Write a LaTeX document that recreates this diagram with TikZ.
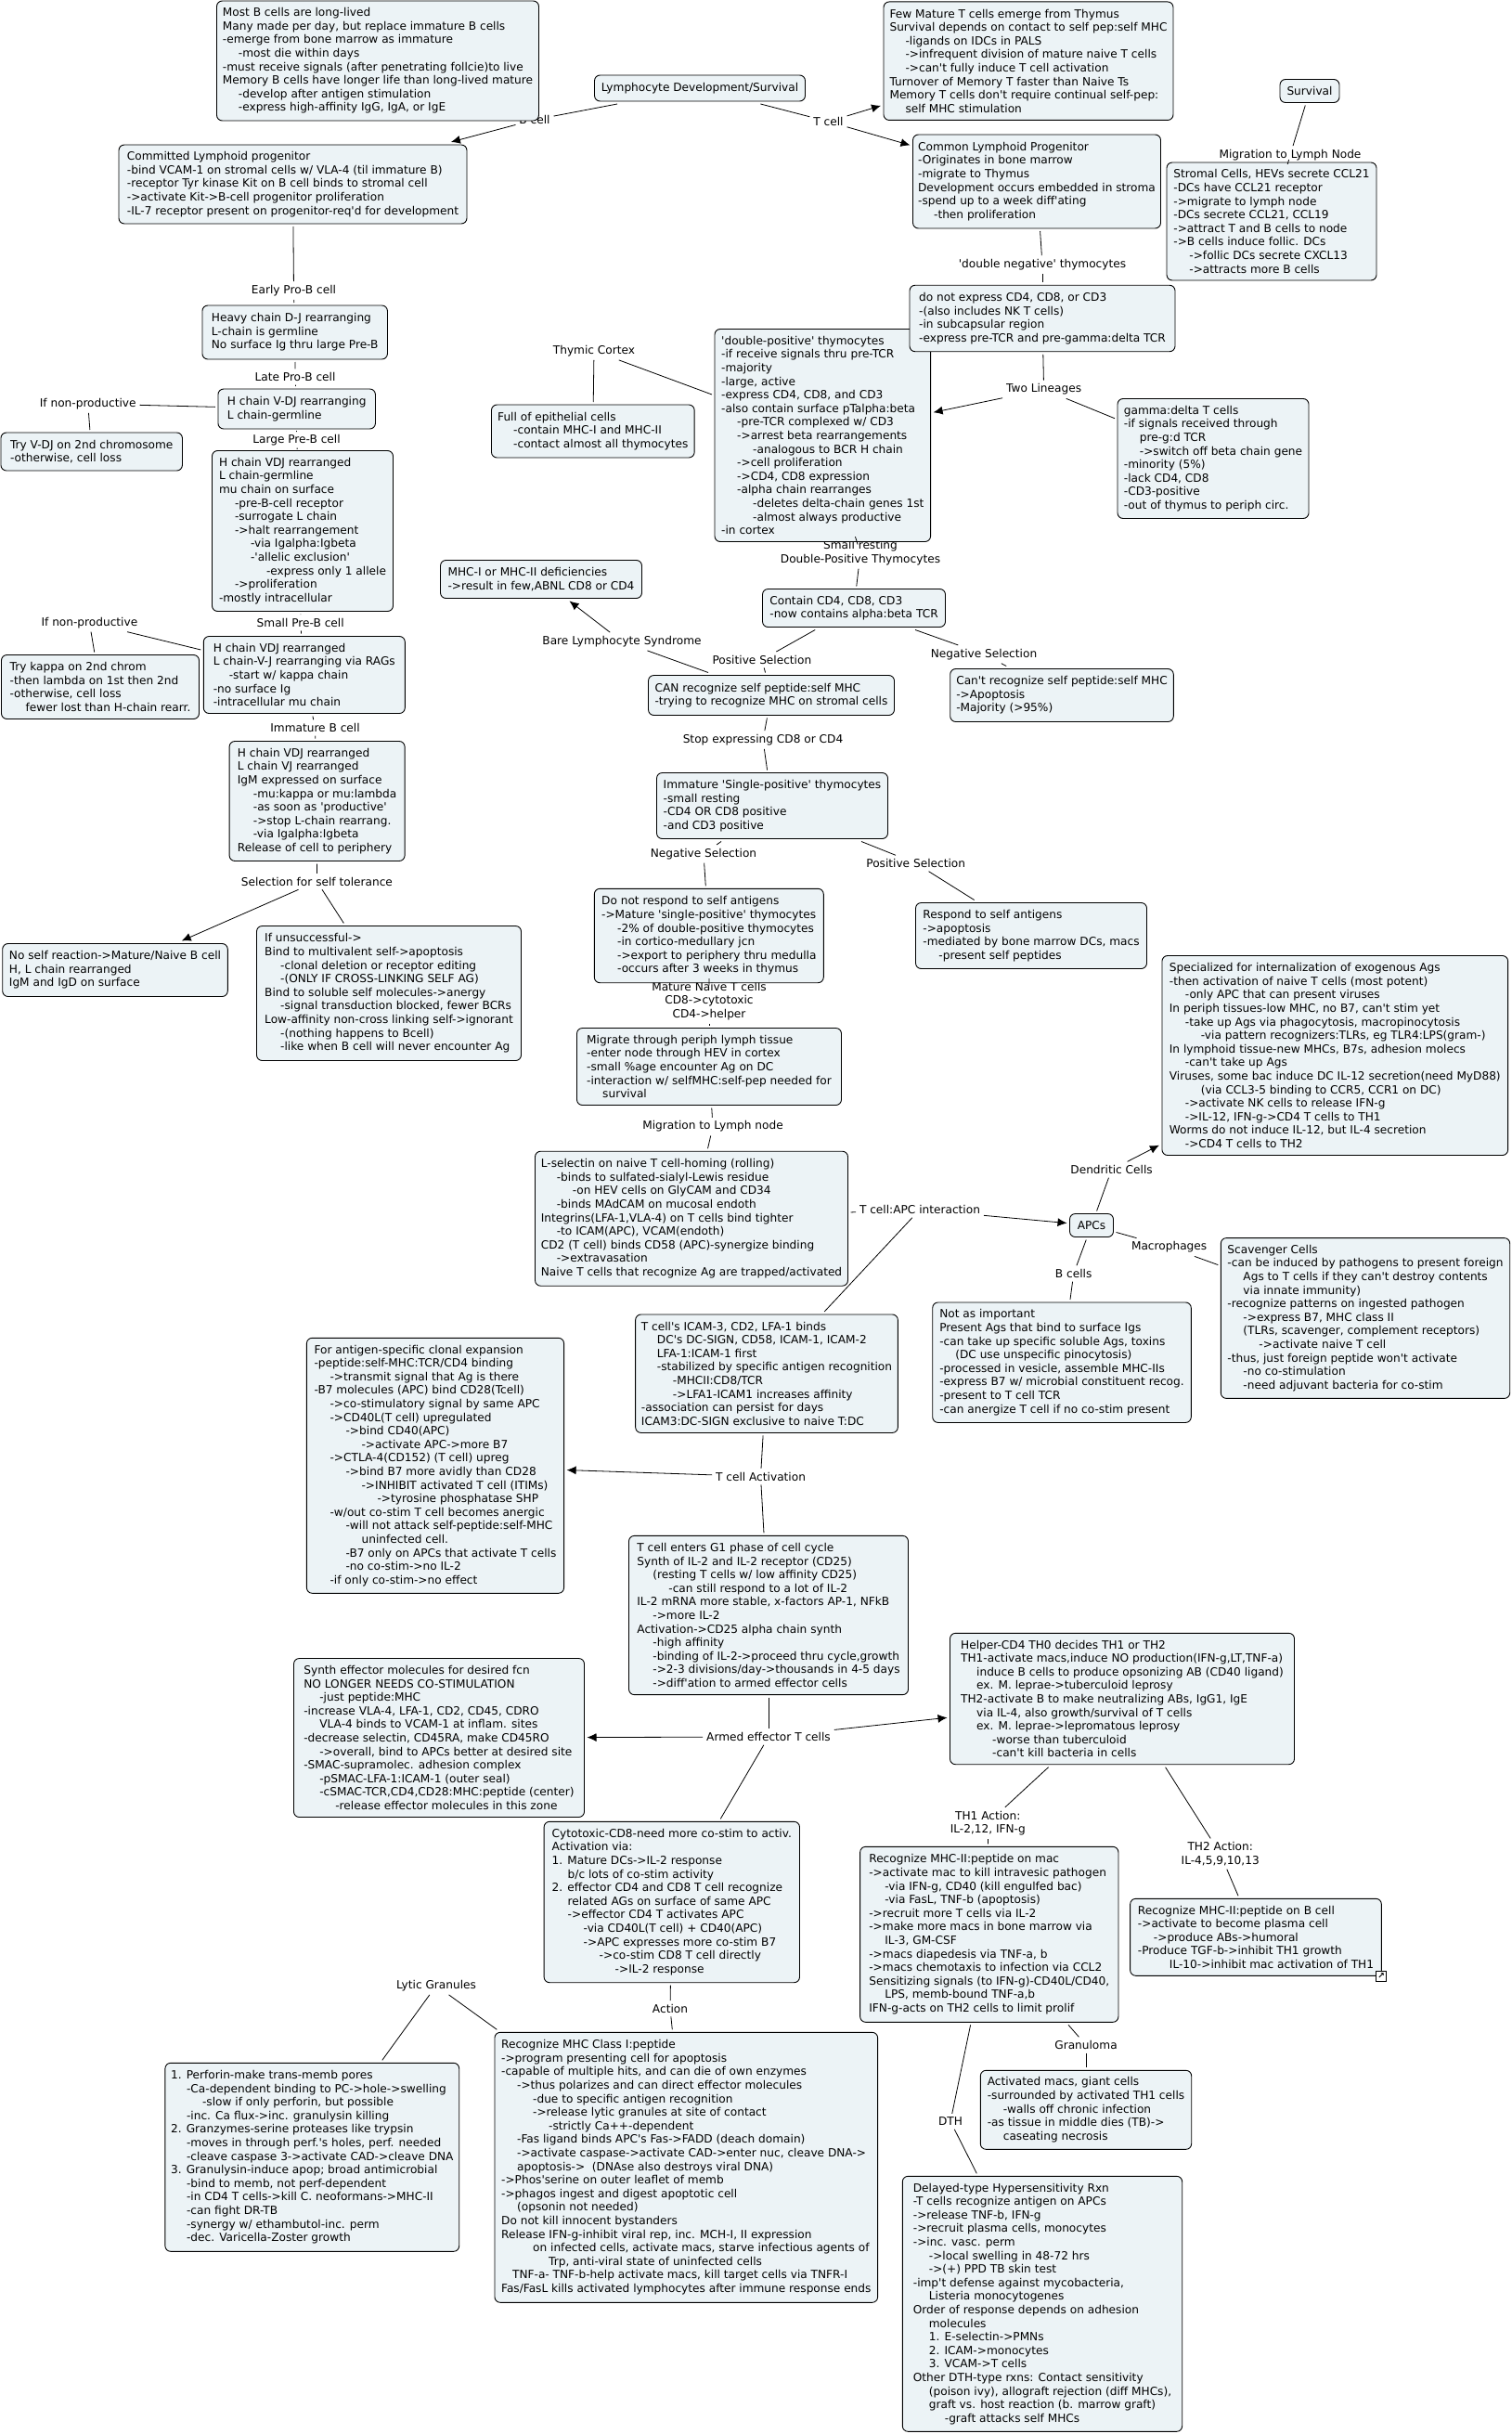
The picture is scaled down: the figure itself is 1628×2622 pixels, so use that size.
\documentclass[tikz,border=0pt]{standalone}
\usepackage{fontspec}
\usetikzlibrary{arrows.meta}
\newfontfamily\mapfont{DejaVu Sans}
\definecolor{cellfill}{HTML}{ECF3F6}
\newcommand{\tabb}{\hspace*{17pt}}
\tikzset{
	concept/.style={draw=black,fill=cellfill,rounded corners=6pt,line width=0.9pt,inner sep=0pt,outer sep=3pt,align=left,font=\mapfont\fontsize{12.15}{14.6}\selectfont},
	linkphrase/.style={inner sep=1pt,outer sep=3pt,align=center,font=\mapfont\fontsize{12.15}{14.6}\selectfont},
	linkicon/.style={draw=black,fill=white,line width=1pt,inner sep=0pt,minimum size=11pt,font=\mapfont\bfseries\fontsize{9}{9}\selectfont},
	>={Latex[length=10pt,width=9pt]},
	edge/.style={line width=0.8pt}
}
\begin{document}
\begin{tikzpicture}[x=1pt,y=-1pt]
		\useasboundingbox (0,0) rectangle (1628,2622);

		\node[linkphrase] (lblB) at (576,129) {B cell};
		\node[linkphrase] (lblT) at (892.5,131) {T cell};
		\node[linkphrase] (lblMigNode) at (1390,167) {Migration to Lymph Node};
		\node[linkphrase] (lblDN) at (1123,285) {'double negative' thymocytes};
		\node[linkphrase] (lblTwo) at (1124.6,419.5) {Two Lineages};
		\node[linkphrase] (lblCortex) at (640,378) {Thymic Cortex};
		\node[linkphrase] (lblEarly) at (316.5,313) {Early Pro-B cell};
		\node[linkphrase] (lblLate) at (318,406) {Late Pro-B cell};
		\node[linkphrase] (lblLarge) at (319.5,474) {Large Pre-B cell};
		\node[linkphrase] (lblNon1) at (94.7,435) {If non-productive};
		\node[linkphrase] (lblSmall) at (323.7,670.8) {Small Pre-B cell};
		\node[linkphrase] (lblNon2) at (96.4,670.8) {If non-productive};
		\node[linkphrase] (lblImm) at (339.5,784) {Immature B cell};
		\node[linkphrase] (lblSelect) at (341.4,949.6) {Selection for self tolerance};
		\node[linkphrase] (lblResting) at (927,595.4) {Small resting\\Double-Positive Thymocytes};
		\node[linkphrase] (lblBare) at (670,691) {Bare Lymphocyte Syndrome};
		\node[linkphrase] (lblPos1) at (820.9,710.7) {Positive Selection};
		\node[linkphrase] (lblNeg1) at (1060,704.8) {Negative Selection};
		\node[linkphrase] (lblStop) at (822,797) {Stop expressing CD8 or CD4};
		\node[linkphrase] (lblNeg2) at (758,919.8) {Negative Selection};
		\node[linkphrase] (lblPos2) at (986.7,930) {Positive Selection};
		\node[linkphrase] (lblMature) at (764,1078.5) {Mature Naive T cells\\CD8->cytotoxic\\CD4->helper};
		\node[linkphrase] (lblLymph) at (768,1213.6) {Migration to Lymph node};
		\node[linkphrase] (lblApc) at (991,1303) {T cell:APC interaction};
		\node[linkphrase] (lblDend) at (1197.6,1260) {Dendritic Cells};
		\node[linkphrase] (lblMac) at (1259.6,1343.5) {Macrophages};
		\node[linkphrase] (lblBc) at (1156.7,1372) {B cells};
		\node[linkphrase] (lblAct) at (819.5,1590.6) {T cell Activation};
		\node[linkphrase] (lblArmed) at (828,1871) {Armed effector T cells};
		\node[linkphrase] (lblTh1) at (1064.3,1964) {TH1 Action:\\IL-2,12, IFN-g};
		\node[linkphrase] (lblTh2) at (1314.7,1997) {TH2 Action:\\IL-4,5,9,10,13};
		\node[linkphrase] (lblGran) at (1170,2203) {Granuloma};
		\node[linkphrase] (lblDth) at (1024,2285.3) {DTH};
		\node[linkphrase] (lblLytic) at (470,2139) {Lytic Granules};
		\node[linkphrase] (lblAction) at (722,2163.7) {Action};

		\node[concept,minimum width=227pt,minimum height=28pt] (lymph) at (754,95) {Lymphocyte Development/Survival};
		\node[concept,minimum width=64pt,minimum height=25pt] (survival) at (1411,98) {Survival};
		\node[concept,minimum width=347pt,minimum height=129pt] (bmemory) at (407,65.5) {Most B cells are long-lived\\Many made per day, but replace immature B cells\\-emerge from bone marrow as immature\\\tabb-most die within days\\-must receive signals (after penetrating follcie)to live\\Memory B cells have longer life than long-lived mature\\\tabb-develop after antigen stimulation\\\tabb-express high-affinity IgG, IgA, or IgE};
		\node[concept,minimum width=312pt,minimum height=127.5pt] (tmemory) at (1108,65.7) {Few Mature T cells emerge from Thymus\\Survival depends on contact to self pep:self MHC\\\tabb-ligands on IDCs in PALS\\\tabb->infrequent division of mature naive T cells\\\tabb->can't fully induce T cell activation\\Turnover of Memory T faster than Naive Ts\\Memory T cells don't require continual self-pep:\\\tabb self MHC stimulation};
		\node[concept,minimum width=375pt,minimum height=85pt] (committed) at (315.5,198.5) {Committed Lymphoid progenitor\\-bind VCAM-1 on stromal cells w/ VLA-4 (til immature B)\\-receptor Tyr kinase Kit on B cell binds to stromal cell\\->activate Kit->B-cell progenitor proliferation\\-IL-7 receptor present on progenitor-req'd for development};
		\node[concept,minimum width=267pt,minimum height=101pt] (common) at (1117,195.5) {Common Lymphoid Progenitor\\-Originates in bone marrow\\-migrate to Thymus\\Development occurs embedded in stroma\\-spend up to a week diff'ating\\\tabb-then proliferation};
		\node[concept,minimum width=226pt,minimum height=127pt] (stromal) at (1370,238.5) {Stromal Cells, HEVs secrete CCL21\\-DCs have CCL21 receptor\\->migrate to lymph node\\-DCs secrete CCL21, CCL19\\->attract T and B cells to node\\->B cells induce follic. DCs\\\tabb->follic DCs secrete CXCL13\\\tabb->attracts more B cells};
		\node[concept,minimum width=199.5pt,minimum height=58pt] (heavy) at (317.7,358) {Heavy chain D-J rearranging\\L-chain is germline\\No surface Ig thru large Pre-B};
		\node[concept,minimum width=169.5pt,minimum height=43pt] (vdjone) at (319.7,440.5) {H chain V-DJ rearranging\\L chain-germline};
		\node[concept,minimum width=195.5pt,minimum height=41pt] (tryvdj) at (98.7,486.5) {Try V-DJ on 2nd chromosome\\-otherwise, cell loss};
		\node[concept,minimum width=195pt,minimum height=173pt] (largepre) at (326,572) {H chain VDJ rearranged\\L chain-germline\\mu chain on surface\\\tabb-pre-B-cell receptor\\\tabb-surrogate L chain\\\tabb->halt rearrangement\\\tabb\tabb-via Igalpha:Igbeta\\\tabb\tabb-'allelic exclusion'\\\tabb\tabb\tabb-express only 1 allele\\\tabb->proliferation\\-mostly intracellular};
		\node[concept,minimum width=218.7pt,minimum height=57pt] (epith) at (638.8,464.5) {Full of epithelial cells\\\tabb-contain MHC-I and MHC-II\\\tabb-contact almost all thymocytes};
		\node[concept,minimum width=232.6pt,minimum height=229pt] (dpos) at (886.3,469) {'double-positive' thymocytes\\-if receive signals thru pre-TCR\\-majority\\-large, active\\-express CD4, CD8, and CD3\\-also contain surface pTalpha:beta\\\tabb-pre-TCR complexed w/ CD3\\\tabb->arrest beta rearrangements\\\tabb\tabb-analogous to BCR H chain\\\tabb->cell proliferation\\\tabb->CD4, CD8 expression\\\tabb-alpha chain rearranges\\\tabb\tabb-deletes delta-chain genes 1st\\\tabb\tabb-almost always productive\\-in cortex};
		\node[concept,minimum width=286pt,minimum height=71.5pt] (noexpress) at (1123,343) {do not express CD4, CD8, or CD3\\-(also includes NK T cells)\\-in subcapsular region\\-express pre-TCR and pre-gamma:delta TCR};
		\node[concept,minimum width=206pt,minimum height=129pt] (gammadelta) at (1307,494) {gamma:delta T cells\\-if signals received through\\\tabb pre-g:d TCR\\\tabb->switch off beta chain gene\\-minority (5\%)\\-lack CD4, CD8\\-CD3-positive\\-out of thymus to periph circ.};
		\node[concept,minimum width=217pt,minimum height=41pt] (mhcdef) at (583,624) {MHC-I or MHC-II deficiencies\\->result in few,ABNL CD8 or CD4};
		\node[concept,minimum width=197pt,minimum height=41pt] (contain) at (920,655) {Contain CD4, CD8, CD3\\-now contains alpha:beta TCR};
		\node[concept,minimum width=217pt,minimum height=83pt] (hvj) at (327.8,727) {H chain VDJ rearranged\\L chain-V-J rearranging via RAGs\\\tabb-start w/ kappa chain\\-no surface Ig\\-intracellular mu chain};
		\node[concept,minimum width=213pt,minimum height=69pt] (trykappa) at (108,740) {Try kappa on 2nd chrom\\-then lambda on 1st then 2nd\\-otherwise, cell loss\\\tabb fewer lost than H-chain rearr.};
		\node[concept,minimum width=265pt,minimum height=43pt] (canrec) at (831,749) {CAN recognize self peptide:self MHC\\-trying to recognize MHC on stromal cells};
		\node[concept,minimum width=240.6pt,minimum height=57pt] (cantrec) at (1144,749) {Can't recognize self peptide:self MHC\\->Apoptosis\\-Majority (>95\%)};
		\node[concept,minimum width=189pt,minimum height=129pt] (hrelease) at (341.6,863) {H chain VDJ rearranged\\L chain VJ rearranged\\IgM expressed on surface\\\tabb-mu:kappa or mu:lambda\\\tabb-as soon as 'productive'\\\tabb->stop L-chain rearrang.\\\tabb-via Igalpha:Igbeta\\Release of cell to periphery};
		\node[concept,minimum width=249pt,minimum height=71pt] (singlepos) at (832,868) {Immature 'Single-positive' thymocytes\\-small resting\\-CD4 OR CD8 positive\\-and CD3 positive};
		\node[concept,minimum width=247pt,minimum height=101.4pt] (noresp) at (763.8,1008) {Do not respond to self antigens\\->Mature 'single-positive' thymocytes\\\tabb-2\% of double-positive thymocytes\\\tabb-in cortico-medullary jcn\\\tabb->export to periphery thru medulla\\\tabb-occurs after 3 weeks in thymus};
		\node[concept,minimum width=249pt,minimum height=71pt] (resp) at (1111,1008) {Respond to self antigens\\->apoptosis\\-mediated by bone marrow DCs, macs\\\tabb-present self peptides};
		\node[concept,minimum width=242.6pt,minimum height=57pt] (noself) at (124,1045) {No self reaction->Mature/Naive B cell\\H, L chain rearranged\\IgM and IgD on surface};
		\node[concept,minimum width=285pt,minimum height=145pt] (unsucc) at (419,1070) {If unsuccessful->\\Bind to multivalent self->apoptosis\\\tabb-clonal deletion or receptor editing\\\tabb-(ONLY IF CROSS-LINKING SELF AG)\\Bind to soluble self molecules->anergy\\\tabb-signal transduction blocked, fewer BCRs\\Low-affinity non-cross linking self->ignorant\\\tabb-(nothing happens to Bcell)\\\tabb-like when B cell will never encounter Ag};
		\node[concept,minimum width=285pt,minimum height=83pt] (migrate) at (764,1149) {Migrate through periph lymph tissue\\-enter node through HEV in cortex\\-small \%age encounter Ag on DC\\-interaction w/ selfMHC:self-pep needed for\\\tabb survival};
		\node[concept,minimum width=372.7pt,minimum height=215pt] (special) at (1438.3,1137) {Specialized for internalization of exogenous Ags\\-then activation of naive T cells (most potent)\\\tabb-only APC that can present viruses\\In periph tissues-low MHC, no B7, can't stim yet\\\tabb-take up Ags via phagocytosis, macropinocytosis\\\tabb\tabb-via pattern recognizers:TLRs, eg TLR4:LPS(gram-)\\In lymphoid tissue-new MHCs, B7s, adhesion molecs\\\tabb-can't take up Ags\\Viruses, some bac induce DC IL-12 secretion(need MyD88)\\\tabb\tabb(via CCL3-5 binding to CCR5, CCR1 on DC)\\\tabb->activate NK cells to release IFN-g\\\tabb->IL-12, IFN-g->CD4 T cells to TH1\\Worms do not induce IL-12, but IL-4 secretion\\\tabb->CD4 T cells to TH2};
		\node[concept,minimum width=337pt,minimum height=145pt] (lselectin) at (745,1312.7) {L-selectin on naive T cell-homing (rolling)\\\tabb-binds to sulfated-sialyl-Lewis residue\\\tabb\tabb-on HEV cells on GlyCAM and CD34\\\tabb-binds MAdCAM on mucosal endoth\\Integrins(LFA-1,VLA-4) on T cells bind tighter\\\tabb-to ICAM(APC), VCAM(endoth)\\CD2 (T cell) binds CD58 (APC)-synergize binding\\\tabb->extravasation\\Naive T cells that recognize Ag are trapped/activated};
		\node[concept,minimum width=47pt,minimum height=25pt] (apcs) at (1176,1320) {APCs};
		\node[concept,minimum width=311.4pt,minimum height=172.8pt] (scav) at (1471,1420) {Scavenger Cells\\-can be induced by pathogens to present foreign\\\tabb Ags to T cells if they can't destroy contents\\\tabb via innate immunity)\\-recognize patterns on ingested pathogen\\\tabb->express B7, MHC class II\\\tabb(TLRs, scavenger, complement receptors)\\\tabb\tabb->activate naive T cell\\-thus, just foreign peptide won't activate\\\tabb-no co-stimulation\\\tabb-need adjuvant bacteria for co-stim};
		\node[concept,minimum width=278.6pt,minimum height=129.5pt] (notimp) at (1144,1467.7) {Not as important\\Present Ags that bind to surface Igs\\-can take up specific soluble Ags, toxins\\\tabb(DC use unspecific pinocytosis)\\-processed in vesicle, assemble MHC-IIs\\-express B7 w/ microbial constituent recog.\\-present to T cell TCR\\-can anergize T cell if no co-stim present};
		\node[concept,minimum width=282.7pt,minimum height=127.5pt] (icam) at (826,1479.7) {T cell's ICAM-3, CD2, LFA-1 binds\\\tabb DC's DC-SIGN, CD58, ICAM-1, ICAM-2\\\tabb LFA-1:ICAM-1 first\\\tabb-stabilized by specific antigen recognition\\\tabb\tabb-MHCII:CD8/TCR\\\tabb\tabb->LFA1-ICAM1 increases affinity\\-association can persist for days\\ICAM3:DC-SIGN exclusive to naive T:DC};
		\node[concept,minimum width=277.2pt,minimum height=275pt] (clonal) at (469,1578.8) {For antigen-specific clonal expansion\\-peptide:self-MHC:TCR/CD4 binding\\\tabb->transmit signal that Ag is there\\-B7 molecules (APC) bind CD28(Tcell)\\\tabb->co-stimulatory signal by same APC\\\tabb->CD40L(T cell) upregulated\\\tabb\tabb->bind CD40(APC)\\\tabb\tabb\tabb->activate APC->more B7\\\tabb->CTLA-4(CD152) (T cell) upreg\\\tabb\tabb->bind B7 more avidly than CD28\\\tabb\tabb\tabb->INHIBIT activated T cell (ITIMs)\\\tabb\tabb\tabb\tabb->tyrosine phosphatase SHP\\\tabb-w/out co-stim T cell becomes anergic\\\tabb\tabb-will not attack self-peptide:self-MHC\\\tabb\tabb\tabb uninfected cell.\\\tabb\tabb-B7 only on APCs that activate T cells\\\tabb\tabb-no co-stim->no IL-2\\\tabb-if only co-stim->no effect};
		\node[concept,minimum width=301pt,minimum height=171.3pt] (enters) at (828,1740) {T cell enters G1 phase of cell cycle\\Synth of IL-2 and IL-2 receptor (CD25)\\\tabb(resting T cells w/ low affinity CD25)\\\tabb\tabb-can still respond to a lot of IL-2\\IL-2 mRNA more stable, x-factors AP-1, NFkB\\\tabb->more IL-2\\Activation->CD25 alpha chain synth\\\tabb-high affinity\\\tabb-binding of IL-2->proceed thru cycle,growth\\\tabb->2-3 divisions/day->thousands in 4-5 days\\\tabb->diff'ation to armed effector cells};
		\node[concept,minimum width=371pt,minimum height=141.4pt] (helper) at (1209,1830) {Helper-CD4 TH0 decides TH1 or TH2\\TH1-activate macs,induce NO production(IFN-g,LT,TNF-a)\\\tabb induce B cells to produce opsonizing AB (CD40 ligand)\\\tabb ex. M. leprae->tuberculoid leprosy\\TH2-activate B to make neutralizing ABs, IgG1, IgE\\\tabb via IL-4, also growth/survival of T cells\\\tabb ex. M. leprae->lepromatous leprosy\\\tabb\tabb-worse than tuberculoid\\\tabb\tabb-can't kill bacteria in cells};
		\node[concept,minimum width=313pt,minimum height=171pt] (synth) at (473,1872) {Synth effector molecules for desired fcn\\NO LONGER NEEDS CO-STIMULATION\\\tabb-just peptide:MHC\\-increase VLA-4, LFA-1, CD2, CD45, CDRO\\\tabb VLA-4 binds to VCAM-1 at inflam. sites\\-decrease selectin, CD45RA, make CD45RO\\\tabb->overall, bind to APCs better at desired site\\-SMAC-supramolec. adhesion complex\\\tabb-pSMAC-LFA-1:ICAM-1 (outer seal)\\\tabb-cSMAC-TCR,CD4,CD28:MHC:peptide (center)\\\tabb\tabb-release effector molecules in this zone};
		\node[concept,minimum width=275.4pt,minimum height=173.4pt] (cyto) at (723.8,2049) {Cytotoxic-CD8-need more co-stim to activ.\\Activation via:\\1. Mature DCs->IL-2 response\\\tabb b/c lots of co-stim activity\\2. effector CD4 and CD8 T cell recognize\\\tabb related AGs on surface of same APC\\\tabb->effector CD4 T activates APC\\\tabb\tabb-via CD40L(T cell) + CD40(APC)\\\tabb\tabb->APC expresses more co-stim B7\\\tabb\tabb\tabb->co-stim CD8 T cell directly\\\tabb\tabb\tabb\tabb->IL-2 response};
		\node[concept,minimum width=278.3pt,minimum height=189pt] (maccell) at (1065.8,2083.8) {Recognize MHC-II:peptide on mac\\->activate mac to kill intravesic pathogen\\\tabb-via IFN-g, CD40 (kill engulfed bac)\\\tabb-via FasL, TNF-b (apoptosis)\\->recruit more T cells via IL-2\\->make more macs in bone marrow via\\\tabb IL-3, GM-CSF\\->macs diapedesis via TNF-a, b\\->macs chemotaxis to infection via CCL2\\Sensitizing signals (to IFN-g)-CD40L/CD40,\\\tabb LPS, memb-bound TNF-a,b\\IFN-g-acts on TH2 cells to limit prolif};
		\node[concept,minimum width=270.7pt,minimum height=83pt] (bcellth) at (1353,2086.8) {Recognize MHC-II:peptide on B cell\\->activate to become plasma cell\\\tabb->produce ABs->humoral\\-Produce TGF-b->inhibit TH1 growth\\\tabb\tabb IL-10->inhibit mac activation of TH1};
		\node[linkicon] (shortcut) at (1488,2128.7) {↗};
		\node[concept,minimum width=227.4pt,minimum height=85pt] (granuloma) at (1170,2272.8) {Activated macs, giant cells\\-surrounded by activated TH1 cells\\\tabb-walls off chronic infection\\-as tissue in middle dies (TB)->\\\tabb caseating necrosis};
		\node[concept,minimum width=316.8pt,minimum height=203pt] (perforin) at (336.3,2323.8) {1. Perforin-make trans-memb pores\\\tabb-Ca-dependent binding to PC->hole->swelling\\\tabb\tabb-slow if only perforin, but possible\\\tabb-inc. Ca flux->inc. granulysin killing\\2. Granzymes-serine proteases like trypsin\\\tabb-moves in through perf.'s holes, perf. needed\\\tabb-cleave caspase 3->activate CAD->cleave DNA\\3. Granulysin-induce apop; broad antimicrobial\\\tabb-bind to memb, not perf-dependent\\\tabb-in CD4 T cells->kill C. neoformans->MHC-II\\\tabb-can fight DR-TB\\\tabb-synergy w/ ethambutol-inc. perm\\\tabb-dec. Varicella-Zoster growth};
		\node[concept,minimum width=412.7pt,minimum height=291pt] (classone) at (739.3,2334.8) {Recognize MHC Class I:peptide\\->program presenting cell for apoptosis\\-capable of multiple hits, and can die of own enzymes\\\tabb->thus polarizes and can direct effector molecules\\\tabb\tabb-due to specific antigen recognition\\\tabb\tabb->release lytic granules at site of contact\\\tabb\tabb\tabb-strictly Ca++-dependent\\\tabb-Fas ligand binds APC's Fas->FADD (deach domain)\\\tabb->activate caspase->activate CAD->enter nuc, cleave DNA->\\\tabb apoptosis->\ \ (DNAse also destroys viral DNA)\\->Phos'serine on outer leaflet of memb\\->phagos ingest and digest apoptotic cell\\\tabb(opsonin not needed)\\Do not kill innocent bystanders\\Release IFN-g-inhibit viral rep, inc. MCH-I, II expression\\\tabb\tabb on infected cells, activate macs, starve infectious agents of\\\tabb\tabb\tabb Trp, anti-viral state of uninfected cells\\\hspace*{12pt}TNF-a- TNF-b-help activate macs, kill target cells via TNFR-I\\Fas/FasL kills activated lymphocytes after immune response ends};
		\node[concept,minimum width=301.4pt,minimum height=275pt] (delayed) at (1123,2481.8) {Delayed-type Hypersensitivity Rxn\\-T cells recognize antigen on APCs\\->release TNF-b, IFN-g\\->recruit plasma cells, monocytes\\->inc. vasc. perm\\\tabb->local swelling in 48-72 hrs\\\tabb->(+) PPD TB skin test\\-imp't defense against mycobacteria,\\\tabb Listeria monocytogenes\\Order of response depends on adhesion\\\tabb molecules\\\tabb 1. E-selectin->PMNs\\\tabb 2. ICAM->monocytes\\\tabb 3. VCAM->T cells\\Other DTH-type rxns: Contact sensitivity\\\tabb(poison ivy), allograft rejection (diff MHCs),\\\tabb graft vs. host reaction (b. marrow graft)\\\tabb\tabb-graft attacks self MHCs};

		\draw[edge] (lymph) -- (lblB);
		\draw[edge,->] (lblB) -- (committed);
		\draw[edge] (lymph) -- (lblT);
		\draw[edge,->] (lblT) -- (tmemory);
		\draw[edge,->] (lblT) -- (common);
		\draw[edge] (survival) -- (lblMigNode);
		\draw[edge] (lblMigNode) -- (stromal);
		\draw[edge] (common) -- (lblDN);
		\draw[edge] (lblDN) -- (noexpress);
		\draw[edge] (noexpress) -- (lblTwo);
		\draw[edge,->] (lblTwo) -- (dpos);
		\draw[edge] (lblTwo) -- (gammadelta);
		\draw[edge] (dpos) -- (lblCortex);
		\draw[edge] (lblCortex) -- (epith);
		\draw[edge] (dpos) -- (lblResting);
		\draw[edge] (lblResting) -- (contain);
		\draw[edge] (contain) -- (lblPos1);
		\draw[edge] (lblPos1) -- (canrec);
		\draw[edge] (contain) -- (lblNeg1);
		\draw[edge] (lblNeg1) -- (cantrec);
		\draw[edge] (canrec) -- (lblBare);
		\draw[edge,->] (lblBare) -- (mhcdef);
		\draw[edge] (canrec) -- (lblStop);
		\draw[edge] (lblStop) -- (singlepos);
		\draw[edge] (singlepos) -- (lblNeg2);
		\draw[edge] (lblNeg2) -- (noresp);
		\draw[edge] (singlepos) -- (lblPos2);
		\draw[edge] (lblPos2) -- (resp);
		\draw[edge] (noresp) -- (lblMature);
		\draw[edge] (lblMature) -- (migrate);
		\draw[edge] (migrate) -- (lblLymph);
		\draw[edge] (lblLymph) -- (lselectin);
		\draw[edge] (lselectin) -- (lblApc);
		\draw[edge,->] (lblApc) -- (apcs);
		\draw[edge] (lblApc) -- (icam);
		\draw[edge] (apcs) -- (lblDend);
		\draw[edge,->] (lblDend) -- (special);
		\draw[edge] (apcs) -- (lblMac);
		\draw[edge] (lblMac) -- (scav);
		\draw[edge] (apcs) -- (lblBc);
		\draw[edge] (lblBc) -- (notimp);
		\draw[edge] (icam) -- (lblAct);
		\draw[edge,->] (lblAct) -- (clonal);
		\draw[edge] (lblAct) -- (enters);
		\draw[edge] (enters) -- (lblArmed);
		\draw[edge,->] (lblArmed) -- (synth);
		\draw[edge,->] (lblArmed) -- (helper);
		\draw[edge] (lblArmed) -- (cyto);
		\draw[edge] (helper) -- (lblTh1);
		\draw[edge] (lblTh1) -- (maccell);
		\draw[edge] (helper) -- (lblTh2);
		\draw[edge] (lblTh2) -- (bcellth);
		\draw[edge] (maccell) -- (lblGran);
		\draw[edge] (lblGran) -- (granuloma);
		\draw[edge] (maccell) -- (lblDth);
		\draw[edge] (lblDth) -- (delayed);
		\draw[edge] (cyto) -- (lblAction);
		\draw[edge] (lblAction) -- (classone);
		\draw[edge] (classone) -- (lblLytic);
		\draw[edge] (lblLytic) -- (perforin);
		\draw[edge] (committed) -- (lblEarly);
		\draw[edge] (lblEarly) -- (heavy);
		\draw[edge] (heavy) -- (lblLate);
		\draw[edge] (lblLate) -- (vdjone);
		\draw[edge] (vdjone) -- (lblLarge);
		\draw[edge] (lblLarge) -- (largepre);
		\draw[edge] (vdjone) -- (lblNon1);
		\draw[edge] (lblNon1) -- (tryvdj);
		\draw[edge] (largepre) -- (lblSmall);
		\draw[edge] (lblSmall) -- (hvj);
		\draw[edge] (hvj) -- (lblNon2);
		\draw[edge] (lblNon2) -- (trykappa);
		\draw[edge] (hvj) -- (lblImm);
		\draw[edge] (lblImm) -- (hrelease);
		\draw[edge] (hrelease) -- (lblSelect);
		\draw[edge,->] (lblSelect) -- (noself);
		\draw[edge] (lblSelect) -- (unsucc);
	\end{tikzpicture}
\end{document}
